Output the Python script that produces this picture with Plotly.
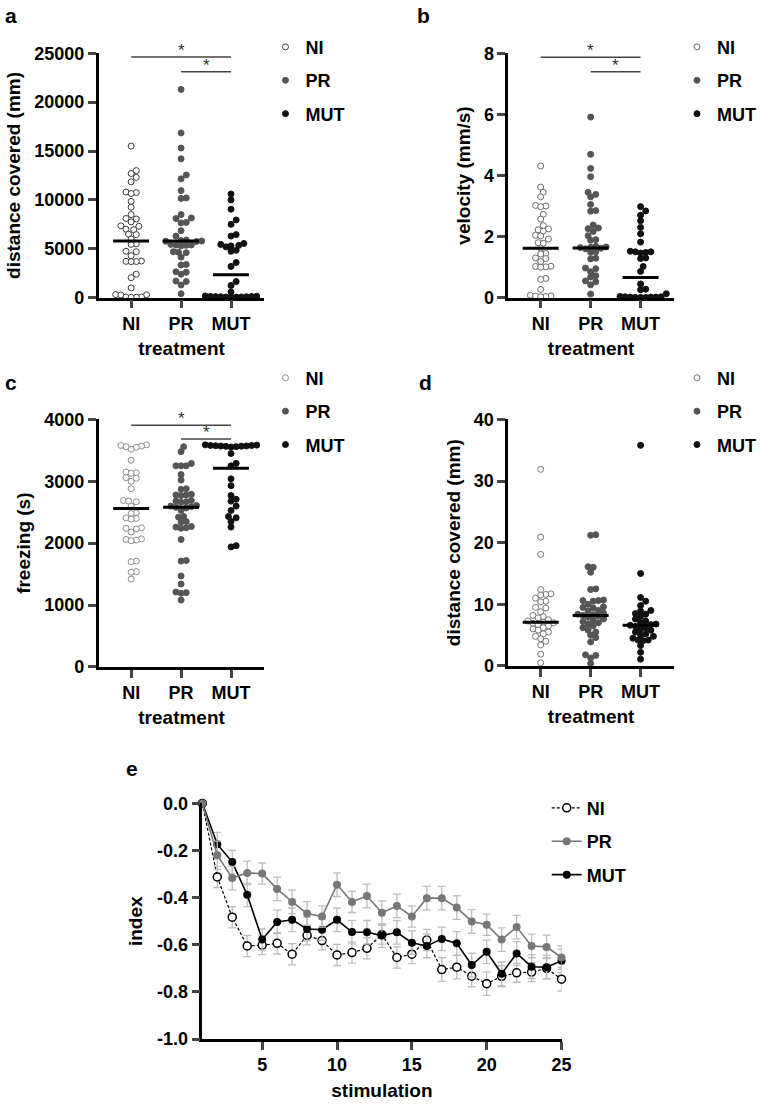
import numpy as np
import plotly.graph_objects as go

W, H = 762, 1106
FONT = "Liberation Sans, Arial, sans-serif"

# ---------------- data ----------------
groups = ["NI", "PR", "MUT"]

# panel a: distance covered (mm)
a_NI = [15500, 13000, 12700, 12300, 11850, 10800, 10750, 10650, 9850, 9250, 8500, 8100, 8050, 7750,
        7350, 7300, 7000, 6950, 6500, 6450, 6000, 5500, 5450, 4750, 4700, 4300, 3750, 3720, 3700, 3680,
        2400, 2050, 1000, 320, 300, 280, 80, 60, 50, 40]
a_PR = [21300, 16850, 15300, 14200, 12550, 12150, 10950, 10200, 10150, 8500, 8150, 8100, 7700, 7650,
        6850, 6300, 5900, 5850, 5800, 5780, 5750, 5450, 5400, 5380, 5350, 5300, 4700, 4650, 4600, 4150,
        3400, 3350, 2650, 2600, 2400, 1700, 1650, 1300, 400]
a_MUT = [10600, 10000, 9050, 7950, 7500, 6450, 6300, 5550, 5450, 5350, 5300, 5200, 4850, 4750, 3600,
         3200, 1650, 1250, 580, 180, 150, 130, 120, 110, 100, 90, 80, 70, 60, 50]
a_median = [5800, 5800, 2350]

# panel b: velocity (mm/s)
b_NI = [4.31, 3.62, 3.45, 3.30, 3.02, 3.0, 2.98, 2.73, 2.57, 2.36, 2.25, 2.22, 2.18, 2.04, 2.02, 1.92,
        1.80, 1.78, 1.62, 1.45, 1.43, 1.30, 1.28, 1.18, 1.03, 1.02, 1.01, 1.0, 0.63, 0.60, 0.27, 0.08,
        0.06, 0.05, 0.04, 0.03]
b_PR = [5.91, 4.69, 4.23, 3.96, 3.45, 3.38, 3.30, 3.05, 2.85, 2.83, 2.38, 2.28, 2.26, 2.17, 2.03, 1.90,
        1.88, 1.68, 1.66, 1.65, 1.64, 1.62, 1.60, 1.50, 1.48, 1.29, 1.27, 0.97, 0.95, 0.85, 0.72, 0.68,
        0.55, 0.52, 0.42, 0.12]
b_MUT = [2.98, 2.84, 2.70, 2.52, 2.30, 2.09, 1.82, 1.52, 1.50, 1.50, 1.48, 1.46, 1.30, 1.28, 1.02, 0.86,
         0.45, 0.28, 0.26, 0.13, 0.04, 0.03, 0.03, 0.02, 0.02, 0.02, 0.01, 0.01, 0.01]
b_median = [1.62, 1.63, 0.66]

# panel c: freezing (s)
c_NI = [3590, 3580, 3570, 3560, 3550, 3520, 3340, 3150, 3140, 3130, 3060, 3050, 3000, 2880, 2690, 2680,
        2670, 2600, 2490, 2480, 2410, 2400, 2390, 2250, 2240, 2230, 2180, 2070, 2060, 2050, 2040, 1710,
        1700, 1540, 1530, 1420]
c_PR = [3560, 3480, 3290, 3250, 3250, 3250, 3110, 3020, 2880, 2870, 2790, 2780, 2780, 2770, 2690, 2680,
        2670, 2660, 2610, 2600, 2590, 2580, 2570, 2530, 2430, 2420, 2350, 2340, 2270, 2260, 2250, 2240,
        2060, 1720, 1710, 1470, 1340, 1210, 1200, 1190, 1080]
c_MUT = [3590, 3585, 3580, 3578, 3575, 3572, 3570, 3568, 3565, 3560, 3555, 3450, 3290, 3250, 3040, 2930,
         2770, 2710, 2680, 2600, 2530, 2430, 2410, 2350, 2260, 1960, 1940]
c_median = [2560, 2580, 3210]

# panel d: distance covered (mm)
d_NI = [31.9, 20.9, 18.1, 12.4, 11.7, 11.6, 11.5, 11.0, 10.5, 10.4, 9.5, 9.4, 8.8, 8.2, 8.0, 7.8, 7.5,
        7.3, 7.1, 7.0, 6.9, 6.7, 6.5, 6.2, 6.0, 5.8, 5.5, 5.2, 4.8, 4.4, 4.0, 3.4, 1.9, 0.5]
d_PR = [21.3, 21.2, 16.1, 16.0, 15.2, 12.5, 12.4, 10.7, 10.6, 10.6, 10.5, 10.0, 9.6, 9.5, 9.4, 9.0, 8.9,
        8.6, 8.4, 8.3, 8.2, 8.1, 7.9, 7.6, 7.4, 7.2, 7.0, 6.8, 6.5, 6.2, 5.8, 5.5, 5.0, 4.6, 3.9, 1.8,
        1.7, 1.3, 0.4]
d_MUT = [35.8, 15.0, 11.1, 10.5, 9.8, 9.0, 8.9, 8.5, 8.4, 8.0, 7.6, 7.3, 7.0, 6.8, 6.7, 6.6, 6.4, 6.2,
         6.0, 5.8, 5.5, 5.2, 5.0, 4.8, 4.5, 4.2, 4.2, 4.1, 3.3, 2.2, 1.1]
d_median = [7.1, 8.2, 6.6]

# significance brackets: (from group, to group, level)
a_sig = [(0, 2, 24600), (1, 2, 23100)]
b_sig = [(0, 2, 7.87), (1, 2, 7.39)]
c_sig = [(0, 2, 3905), (1, 2, 3683)]

# panel e: habituation index
e_stim = list(range(1, 26))
e_NI = [0, -0.312, -0.483, -0.605, -0.602, -0.594, -0.64, -0.56, -0.582, -0.643, -0.633, -0.615, -0.557,
        -0.654, -0.64, -0.58, -0.705, -0.695, -0.733, -0.765, -0.734, -0.719, -0.716, -0.70, -0.746]
e_PR = [0, -0.22, -0.317, -0.295, -0.298, -0.363, -0.418, -0.467, -0.48, -0.345, -0.418, -0.393, -0.464,
        -0.435, -0.48, -0.402, -0.402, -0.442, -0.501, -0.515, -0.578, -0.525, -0.605, -0.609, -0.654]
e_MUT = [0, -0.173, -0.249, -0.388, -0.578, -0.503, -0.494, -0.533, -0.536, -0.494, -0.546, -0.547, -0.561,
         -0.547, -0.591, -0.605, -0.575, -0.594, -0.686, -0.63, -0.723, -0.637, -0.693, -0.695, -0.668]
e_NI_err = [0, 0.045, 0.045, 0.045, 0.04, 0.045, 0.045, 0.04, 0.04, 0.045, 0.045, 0.045, 0.04, 0.045, 0.04,
            0.045, 0.05, 0.05, 0.045, 0.05, 0.045, 0.04, 0.04, 0.045, 0.05]
e_PR_err = [0, 0.06, 0.05, 0.05, 0.045, 0.05, 0.05, 0.05, 0.045, 0.05, 0.045, 0.05, 0.05, 0.05, 0.045,
            0.05, 0.05, 0.05, 0.05, 0.045, 0.05, 0.05, 0.05, 0.05, 0.05]
e_MUT_err = [0, 0.05, 0.05, 0.05, 0.045, 0.05, 0.05, 0.05, 0.045, 0.05, 0.05, 0.05, 0.05, 0.05, 0.05,
             0.05, 0.05, 0.05, 0.05, 0.05, 0.05, 0.05, 0.05, 0.05, 0.05]

a_ticks = [0, 5000, 10000, 15000, 20000, 25000]
b_ticks = [0, 2, 4, 6, 8]
c_ticks = [0, 1000, 2000, 3000, 4000]
d_ticks = [0, 10, 20, 30, 40]
e_yticks = [0, -0.2, -0.4, -0.6, -0.8, -1.0]
e_yticktext = ["0.0", "-0.2", "-0.4", "-0.6", "-0.8", "-1.0"]
e_xticks = [5, 10, 15, 20, 25]

# ---------------- helpers ----------------
def fx(p):
    return p / W

def fy(p):
    return 1 - p / H

CAT_PX = 50.5  # pixels per category unit
TICK = 18
TITLE = 19
LEGF = 18


def swarm(vals, ppu, diam=5.2):
    vals = np.asarray(vals, float)
    y = vals * ppu
    order = np.argsort(vals)
    step = diam / 2.0
    px, py = [], []
    off = np.zeros(len(vals))
    for i in order:
        cands = [0.0]
        for k in range(1, 80):
            cands += [k * step, -k * step]
        for c in cands:
            ok = True
            for qx, qy in zip(px, py):
                if (c - qx) ** 2 + (y[i] - qy) ** 2 < diam ** 2 - 1e-9:
                    ok = False
                    break
            if ok:
                off[i] = c
                break
        px.append(off[i])
        py.append(y[i])
    return off / CAT_PX


fig = go.Figure()
layout = dict()
annotations = []

bold = dict(family=FONT, weight="bold", color="black")

panels = [
    dict(key="a", xs=1, sets=[a_NI, a_PR, a_MUT], med=a_median, sig=a_sig, ticks=a_ticks,
         ymax=25000, xd=(100, 268), yd=(44, 293), title="distance covered (mm)", nic="#3c3c3c",
         leg=(269, 19)),
    dict(key="b", xs=2, sets=[b_NI, b_PR, b_MUT], med=b_median, sig=b_sig, ticks=b_ticks,
         ymax=8, xd=(515, 683), yd=(44, 293), title="velocity (mm/s)", nic="#6a6a6a",
         leg=(686, 19)),
    dict(key="c", xs=3, sets=[c_NI, c_PR, c_MUT], med=c_median, sig=c_sig, ticks=c_ticks,
         ymax=4000, xd=(100, 268), yd=(417, 669), title="freezing (s)", nic="#8c8c8c",
         leg=(269, 356)),
    dict(key="d", xs=4, sets=[d_NI, d_PR, d_MUT], med=d_median, sig=[], ticks=d_ticks,
         ymax=40, xd=(515, 683), yd=(417, 668), title="distance covered (mm)", nic="#777777",
         leg=(686, 356)),
]

for p in panels:
    n = p["xs"]
    xa = "x" if n == 1 else f"x{n}"
    ya = "y" if n == 1 else f"y{n}"
    leg = "legend" if n == 1 else f"legend{n}"
    ppu = (p["yd"][1] - p["yd"][0]) / p["ymax"]
    fills = ["white", "#555555", "#111111"]
    lines = [p["nic"], "#555555", "#111111"]
    for gi, (g, vals) in enumerate(zip(groups, p["sets"])):
        offs = swarm(vals, ppu)
        fig.add_trace(go.Scatter(
            x=gi + offs, y=vals, mode="markers", name=g, xaxis=xa, yaxis=ya, legend=leg,
            legendrank=gi + 1, legendgroup=f"{p['key']}{g}",
            marker=dict(size=6, color=fills[gi], line=dict(width=1, color=lines[gi])),
            cliponaxis=False, showlegend=True, hoverinfo="y"))
    for gi, m in enumerate(p["med"]):
        fig.add_trace(go.Scatter(
            x=[gi - 0.36, gi + 0.36], y=[m, m], mode="lines", xaxis=xa, yaxis=ya,
            line=dict(color="black", width=3), showlegend=False, hoverinfo="skip"))
    for (g0, g1, lev) in p["sig"]:
        fig.add_trace(go.Scatter(
            x=[g0, g1], y=[lev, lev], mode="lines", xaxis=xa, yaxis=ya,
            line=dict(color="#444444", width=1.5), showlegend=False, hoverinfo="skip",
            cliponaxis=False))
        annotations.append(dict(x=(g0 + g1) / 2, y=lev, xref=xa, yref=ya, text="*",
                                showarrow=False, yanchor="bottom", yshift=-5,
                                font=dict(family=FONT, size=17, color="#333333")))
    layout[f"xaxis{'' if n == 1 else n}"] = dict(
        domain=[fx(p["xd"][0]), fx(p["xd"][1])], anchor=ya, range=[-0.65, 2.67],
        tickvals=[0, 1, 2], ticktext=groups, ticks="outside", ticklen=8, tickwidth=2.5,
        showline=True, linewidth=2.5, linecolor="black", showgrid=False, zeroline=False,
        tickfont=dict(size=TICK, **bold),
        title=dict(text="treatment", font=dict(size=TITLE, **bold), standoff=9))
    layout[f"yaxis{'' if n == 1 else n}"] = dict(
        domain=[fy(p["yd"][1]), fy(p["yd"][0])], anchor=xa, range=[0, p["ymax"]],
        tickvals=p["ticks"], ticktext=[str(t) for t in p["ticks"]], ticks="outside", ticklen=8,
        tickwidth=2.5, showline=True, linewidth=2.5, linecolor="black", showgrid=False,
        zeroline=False, tickfont=dict(size=TICK, **bold),
        title=dict(text=p["title"], font=dict(size=TITLE, **bold), standoff=9))
    layout[leg] = dict(x=fx(p["leg"][0]), y=fy(p["leg"][1]), xanchor="left", yanchor="top",
                       font=dict(size=LEGF, **bold), bgcolor="rgba(0,0,0,0)",
                       tracegroupgap=7, itemsizing="trace")

# panel e
e_sets = [("NI", e_NI, e_NI_err, 1), ("MUT", e_MUT, e_MUT_err, 3), ("PR", e_PR, e_PR_err, 2)]
for g, vals, err, rank in e_sets:
    if g == "NI":
        mk = dict(size=8, color="white", line=dict(width=1.5, color="black"))
        ln = dict(color="black", width=1.2, dash="3px,2px")
    elif g == "PR":
        mk = dict(size=8, color="#777777", line=dict(width=0))
        ln = dict(color="#777777", width=1.6)
    else:
        mk = dict(size=8, color="black", line=dict(width=0))
        ln = dict(color="black", width=1.6)
    fig.add_trace(go.Scatter(
        x=e_stim, y=vals, mode="lines+markers", name=g, xaxis="x5", yaxis="y5", legend="legend5",
        legendrank=rank, legendgroup=f"e{g}", marker=mk, line=ln, cliponaxis=False,
        error_y=dict(type="data", array=err, visible=True, color="#bdbdbd", thickness=1.3, width=4)))

layout["xaxis5"] = dict(
    domain=[fx(205), fx(569)], anchor="y5", range=[1, 25], tickvals=e_xticks, ticks="outside",
    ticklen=8, tickwidth=2.5, showline=True, linewidth=2.5, linecolor="black", showgrid=False,
    zeroline=False, tickfont=dict(size=TICK, **bold),
    title=dict(text="stimulation", font=dict(size=TITLE, **bold), standoff=10))
layout["yaxis5"] = dict(
    domain=[fy(1048), fy(808)], anchor="x5", range=[-1, 0], tickvals=e_yticks, ticktext=e_yticktext,
    ticks="outside", ticklen=8, tickwidth=2.5, showline=True, linewidth=2.5, linecolor="black",
    showgrid=False, zeroline=False, tickfont=dict(size=TICK, **bold),
    title=dict(text="index", font=dict(size=TITLE, **bold), standoff=10))
layout["legend5"] = dict(x=fx(554), y=fy(794), xanchor="left", yanchor="top",
                         font=dict(size=LEGF, **bold), bgcolor="rgba(0,0,0,0)", tracegroupgap=7)

# panel letters
for letter, lx, ly in [("a", 3, -8), ("b", 421, -8), ("c", 3, 366), ("d", 423, 366), ("e", 126, 759)]:
    annotations.append(dict(x=fx(lx), y=fy(ly), xref="paper", yref="paper", text=letter,
                            showarrow=False, xanchor="left", yanchor="top",
                            font=dict(size=21, **bold)))

fig.update_layout(
    width=W, height=H, margin=dict(l=0, r=0, t=0, b=0), paper_bgcolor="white",
    plot_bgcolor="white", font=dict(family=FONT, color="black"), annotations=annotations,
    **layout)

fig.write_html("out.html")
